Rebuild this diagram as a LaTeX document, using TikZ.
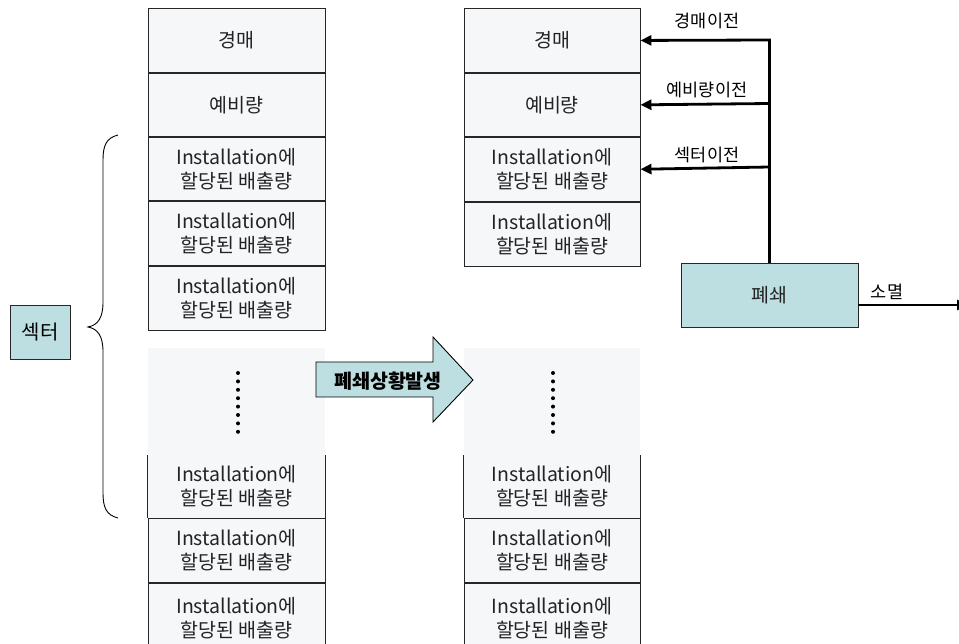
\documentclass[tikz,border=0pt]{standalone}
\usepackage{fontspec}
\setmainfont{Noto Sans CJK KR}
\usetikzlibrary{arrows.meta,calc}
\definecolor{boxfill}{RGB}{246,247,249}
\definecolor{teal}{RGB}{189,223,226}
\definecolor{txt}{RGB}{35,35,35}
\begin{document}
\begin{tikzpicture}[x=1pt,y=-1pt,
  cell/.style={draw=black!85,line width=0.9pt,fill=boxfill,minimum width=177pt,inner sep=0pt,anchor=north,align=center,text=txt,font=\fontsize{19.5}{24}\selectfont},
  lbl/.style={font=\fontsize{17.5}{19}\selectfont,text=black},
  arr/.style={line width=2.8pt,-{Triangle[length=11pt,width=10pt]}},
  dot/.style={circle,fill=black,inner sep=0pt,minimum size=4pt}]
\useasboundingbox (0,0) rectangle (959,644);
\clip (0,0) rectangle (959,644);
% ---------- left column ----------
\fill[boxfill] (148,348) rectangle (325,650);
\node[cell,minimum height=64pt] (la) at (236.5,8) {경매};
\node[cell,minimum height=63pt] (lb) at (la.south) {예비량};
\node[cell,minimum height=63pt] (lc) at (lb.south) {Installation에\\할당된 배출량};
\node[cell,minimum height=64pt] (ld) at (lc.south) {Installation에\\할당된 배출량};
\node[cell,minimum height=64pt] (le) at (ld.south) {Installation에\\할당된 배출량};
\foreach \i in {0,...,7} \node[dot] (ldot\i) at (238,373+8.4*\i) {};
\node[cell,draw=none,minimum height=62pt] (lf) at (236.5,455) {Installation에\\할당된 배출량};
\draw[black!85,line width=0.9pt] (lf.north west) -- (lf.south west) (lf.north east) -- (lf.south east);
\node[cell,minimum height=64pt] (lg) at (lf.south) {Installation에\\할당된 배출량};
\node[cell,minimum height=70pt] (lh) at (lg.south) {Installation에\\할당된 배출량};
% ---------- right column ----------
\fill[boxfill] (464,348) rectangle (640,650);
\node[cell,minimum width=176pt,minimum height=64pt] (ra) at (552,8) {경매};
\node[cell,minimum width=176pt,minimum height=63pt] (rb) at (ra.south) {예비량};
\node[cell,minimum width=176pt,minimum height=64pt] (rc) at (rb.south) {Installation에\\할당된 배출량};
\node[cell,minimum width=176pt,minimum height=64pt] (rd) at (rc.south) {Installation에\\할당된 배출량};
\foreach \i in {0,...,7} \node[dot] (rdot\i) at (553,373+8.4*\i) {};
\node[cell,draw=none,minimum width=176pt,minimum height=62pt] (rf) at (552,455) {Installation에\\할당된 배출량};
\draw[black!85,line width=0.9pt] (rf.north west) -- (rf.south west) (rf.north east) -- (rf.south east);
\node[cell,minimum width=176pt,minimum height=64pt] (rg) at (rf.south) {Installation에\\할당된 배출량};
\node[cell,minimum width=176pt,minimum height=70pt] (rh) at (rg.south) {Installation에\\할당된 배출량};
% ---------- sector brace ----------
\node[draw=black!85,line width=0.9pt,fill=teal,minimum width=60pt,minimum height=54pt,inner sep=0pt,font=\fontsize{20}{22}\selectfont] (sec) at (40,332) {섹터};
\draw[line width=0.9pt] (118,135) .. controls (106,138) and (103,146) .. (103,160) -- (103,302)
  .. controls (103,318) and (98,325) .. (88,327)
  .. controls (98,329) and (103,336) .. (103,352) -- (103,493)
  .. controls (103,507) and (106,515) .. (118,518);
% ---------- big arrow ----------
\draw[line width=0.9pt,fill=teal] (316,362) -- (433,362) -- (433,337) -- (473,380) -- (433,422) -- (433,397) -- (316,397) -- cycle;
\node[font=\bfseries\fontsize{19.5}{21}\selectfont] (evt) at (388,381) {폐쇄상황발생};
% ---------- closure box and transfers ----------
\node[draw=black!85,line width=0.9pt,fill=teal,minimum width=177pt,minimum height=64pt,inner sep=0pt,text=txt,font=\fontsize{19.5}{21}\selectfont] (cls) at (769.5,295) {폐쇄};
\coordinate (j1) at (769.5,40);
\coordinate (j2) at (769.5,103.5);
\coordinate (j3) at (769.5,167);
\draw[line width=2.8pt] (j1) -- (cls.north);
\draw[arr] ([xshift=1.4pt]j1) -- (ra.east);
\draw[arr] (j2) -- (rb.east);
\draw[arr] (j3) -- (rc.east);
\node[lbl] (t1) at (707,21) {경매이전};
\node[lbl] (t2) at (707,90) {예비량이전};
\node[lbl] (t3) at (707,155) {섹터이전};
\coordinate (endpt) at (968,305);
\draw[arr] ([yshift=-10pt]cls.east) -- (endpt);
\node[lbl] (t4) at (887,292) {소멸};
\end{tikzpicture}
\end{document}
